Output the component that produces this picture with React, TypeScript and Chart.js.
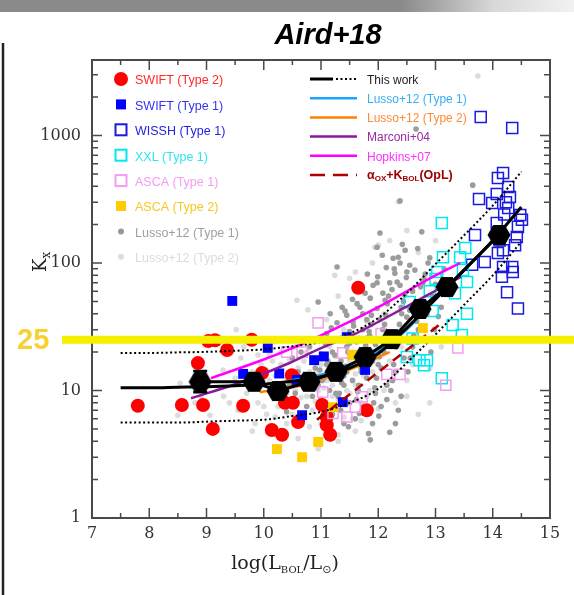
import React, { useEffect, useRef } from 'react';
import { Chart, registerables } from 'chart.js';
Chart.register(...registerables);

const W = 574;
const H = 595;

const xTickValues = [7, 8, 9, 10, 11, 12, 13, 14, 15];
const yTickValues = [1, 10, 100, 1000];
const markLevel = 25;

// This work (binned points)
const thisWorkX = [8.89, 9.83, 10.25, 10.79, 11.26, 11.77, 12.24, 12.73, 13.2, 14.11];
const thisWorkY = [11.7, 11.7, 9.9, 11.7, 14.0, 18.3, 25.3, 43.6, 64.8, 166];
const thisWorkLo = [9.7, 10.8, 9.2, 10.8, 13.0, 17.0, 23.5, 40.5, 60, 150];
const thisWorkHi = [14.2, 12.7, 10.7, 12.7, 15.0, 19.6, 27.2, 47, 70, 183];

// This work model and scatter band
const modelX = [7.5, 8, 8.5, 9, 9.5, 10, 10.5, 11, 11.5, 12, 12.5, 13, 13.5, 14, 14.5];
const modelY = [10.5, 10.5, 10.6, 10.7, 10.9, 11.2, 11.8, 12.8, 15.0, 19.5, 31, 52, 88, 150, 275];
const modelUp = [19.7, 19.7, 19.9, 20.1, 20.5, 21, 22.2, 24, 28, 37, 58, 98, 165, 282, 520];
const modelLo = [5.6, 5.6, 5.6, 5.7, 5.8, 5.9, 6.3, 6.8, 8.0, 10.3, 16.5, 27.5, 47, 80, 147];

// Literature relations
const lussoT1LineX = [10.4, 11.0, 11.5, 12.0, 12.5, 13.1];
const lussoT1LineY = [11.8, 13.3, 16, 20.5, 30, 60];
const lussoT2LineX = [9.93, 10.4, 11.0, 11.5, 12.2];
const lussoT2LineY = [9.7, 10.5, 12.3, 14.6, 20.0];
const marconiX = [8.73, 9.5, 10.46, 11.0, 11.5, 12.55, 13.04, 13.45];
const marconiY = [8.7, 11.2, 16.5, 21.5, 26.5, 47, 62, 78];
const hopkinsX = [9.08, 10.0, 10.5, 11.0, 12.0, 13.0, 13.43];
const hopkinsY = [12.5, 17.5, 21.5, 27, 45, 80, 100];
const aoxX = [10.93, 13.13];
const aoxY = [5.9, 34.5];

// SWIFT (Type 2)
const swift2X = [7.8, 8.57, 8.94, 9.64, 9.11, 8.85, 9.03, 9.15, 9.36, 9.79, 9.97, 10.14, 10.32, 10.37, 10.51, 10.49, 10.6, 11.02, 11.1, 11.16, 11.8, 11.65, 10.58, 11.1];
const swift2Y = [7.6, 7.7, 7.7, 7.6, 5.0, 16.4, 24.4, 24.8, 20.8, 25.0, 13.7, 4.9, 4.5, 8.0, 8.0, 13.2, 5.65, 7.7, 5.35, 4.5, 7.0, 64, 12.0, 6.2];

// SWIFT (Type 1)
const swift1X = [9.45, 9.64, 10.07, 10.27, 10.58, 10.67, 10.88, 11.05, 11.45, 11.77, 11.38];
const swift1Y = [50.4, 13.5, 21.6, 13.6, 12.1, 6.4, 17.3, 18.5, 26.2, 14.5, 8.1];

// WISSH (Type 1)
const wisshX = [13.79, 14.34, 14.18, 14.09, 14.27, 13.76, 14.07, 13.99, 14.23, 14.27, 14.48, 14.51, 14.07, 13.69, 14.44, 14.42, 14.39, 14.18, 14.09, 13.86, 13.64, 14.18, 14.34, 14.35, 14.16, 14.25, 14.44, 14.1, 14.2, 14.3, 14.12];
const wisshY = [1397, 1145, 508, 464, 394, 318, 348, 295, 300, 270, 238, 218, 206, 166, 192, 160, 138, 126, 120, 102, 97, 93, 93, 85, 78, 59, 44, 175, 240, 330, 150];

// XXL (Type 1)
const xxlX = [13.11, 13.52, 13.13, 13.43, 13.48, 13.55, 13.03, 13.55, 13.34, 12.55, 12.9, 13.3, 13.46, 12.5, 12.72, 12.85, 12.8, 13.11, 12.6, 13.0, 12.95];
const xxlY = [206, 131, 111, 111, 88, 71, 85, 40, 58, 49.5, 60, 32.6, 27.2, 18.3, 17.3, 17.3, 15.8, 12.5, 25.6, 75, 42];

// ASCA (Type 1)
const asca1X = [10.4, 10.67, 10.95, 11.38, 11.03, 11.72, 11.6, 11.45, 11.21, 12.05, 12.15, 12.38, 13.39, 13.18];
const asca1Y = [20.0, 20.0, 33.9, 19.7, 9.7, 8.9, 7.4, 6.2, 6.6, 28, 13.4, 13.4, 21.6, 11];

// ASCA (Type 2)
const asca2X = [10.23, 10.67, 10.95, 12.78, 11.21, 11.55];
const asca2Y = [3.47, 3.0, 3.95, 30.9, 7.4, 19];

// Lusso+12 (Type 1) sources
const lusso1X = [10.3, 10.45, 10.55, 10.6, 10.7, 10.75, 10.8, 10.85, 10.9, 10.95, 10.95, 10.5, 10.65, 10.8, 10.4, 10.6,
  11.0, 11.05, 11.1, 11.15, 11.2, 11.25, 11.3, 11.3, 11.35, 11.4, 11.45, 11.45, 11.5, 11.5, 11.16, 11.28, 11.28, 11.37, 11.45, 11.1, 11.2, 11.4, 11.05,
  11.55, 11.56, 11.6, 11.62, 11.65, 11.68, 11.7, 11.73, 11.73, 11.75, 11.77, 11.8, 11.8, 11.85, 11.86, 11.9, 11.91, 11.95, 11.98, 11.98, 11.98, 11.86, 11.6, 11.75, 11.9, 11.95,
  12.03, 12.03, 12.05, 12.07, 12.08, 12.08, 12.1, 12.12, 12.15, 12.2, 12.2, 12.2, 12.24, 12.26, 12.29, 12.3, 12.33, 12.35, 12.38, 12.38, 12.38, 12.4, 12.4, 12.45, 12.47, 12.5, 12.5, 12.35, 12.3, 12.05, 12.15,
  12.55, 12.55, 12.6, 12.64, 12.7, 12.75, 12.76, 12.8, 12.85, 12.9, 12.95, 13.0, 12.66, 13.65, 13.1, 12.6,
  10.92, 10.98, 11.02, 11.08, 11.12, 11.18, 11.22, 11.26, 11.29, 11.24,
  11.32, 11.36, 11.4, 11.43, 11.47, 11.5, 11.53, 11.57, 11.42, 11.55, 11.34, 11.48,
  11.62, 11.64, 11.66, 11.7, 11.72, 11.76, 11.78, 11.82, 11.84, 11.87, 11.88, 11.63, 11.69, 11.81, 11.67, 11.83,
  11.92, 11.94, 11.97, 12.0, 12.02, 12.06, 12.09, 12.11, 12.13, 12.16, 12.18, 11.99, 12.14, 12.01,
  12.22, 12.25, 12.27, 12.31, 12.34, 12.37, 12.41, 12.44, 12.46, 12.49, 12.28, 12.42,
  12.52, 12.56, 12.58, 12.62, 12.67, 12.71, 12.74, 12.78, 12.82, 12.87, 12.69,
  12.92, 12.98, 13.05, 13.15];
const lusso1Y = [8.5, 11, 9.5, 14, 10.5, 7.5, 12, 9, 15, 11, 49.5, 18, 20, 22, 6.8, 6.2,
  8.5, 12.5, 16, 10, 20, 13, 25, 9, 17, 11, 22, 14, 29, 8, 40, 34, 93, 45, 39, 28, 6.5, 5.5, 19,
  12, 34.5, 18, 24, 10, 45, 15, 30, 40, 21, 58, 36, 12.5, 27, 53, 17, 67, 9.5, 44, 70, 133, 4.1, 6, 7.5, 5.5, 23,
  36, 172, 15, 115, 30, 58, 20, 51, 11, 70, 4.7, 26, 62, 109, 83, 14, 71, 111, 100, 67, 307, 9, 45, 18, 126, 85, 37.6, 7, 5.5, 7.5, 8.5,
  96, 42.6, 60, 88, 30, 50, 176, 75, 40, 110, 55, 68, 1124, 408, 45, 22,
  10.5, 14.5, 12, 23, 17, 31, 7.2, 9.5, 13.5, 19,
  9.5, 11.5, 13, 15.5, 20, 23.5, 27, 32, 42, 52, 7, 5.2,
  8.5, 9.8, 11, 14, 16.5, 19.5, 22.5, 26, 29, 33, 39, 48, 62, 82, 6.6, 4.6,
  8, 10.5, 12.5, 16, 18.5, 21.5, 24, 33, 39, 48, 55, 78, 92, 6.3,
  10, 12, 16, 22, 28, 33, 40, 50, 56, 77, 90, 140,
  14, 18, 25, 27, 35, 47, 65, 70, 82, 100, 130,
  20, 30, 38, 90];

// Lusso+12 (Type 2) sources
const lusso2X = [8.5, 8.54, 8.9, 9.06, 9.29, 9.52, 9.6, 9.7, 9.8, 9.9, 9.95, 10.0, 10.05, 10.1, 10.15, 10.2, 10.25, 10.3, 10.35, 10.4, 10.45, 10.5, 10.55, 10.58, 10.6, 10.65, 10.7, 10.75, 10.77, 10.8, 10.85, 10.9, 10.95, 11.0, 11.0, 11.05, 11.1, 11.15, 11.2, 11.24, 11.3, 11.35, 11.4, 11.45, 11.5, 11.5, 11.55, 11.6, 11.65, 11.7, 11.75, 11.8, 11.85, 11.94, 12.0, 12.0, 12.1, 12.2, 12.35, 12.4, 12.5, 12.7, 13.0, 13.74, 9.2, 9.4, 9.5, 9.65, 10.0, 10.2, 10.6, 11.0, 11.3, 10.1, 10.4, 10.2, 9.85, 12.7, 12.9,
  9.55, 9.75, 9.9, 10.0, 10.05, 10.1, 10.15, 10.2, 10.25, 10.3, 10.35, 10.4, 10.45, 10.5, 10.55, 10.6, 10.65, 10.7, 10.75, 10.8, 10.85, 10.9, 10.95, 11.0, 11.05, 11.1, 11.15, 11.2, 11.25, 11.3, 11.35, 11.4, 11.45, 11.5, 11.55, 11.6, 11.7, 11.75, 11.8, 11.9, 12.0, 12.1, 12.2, 12.3, 12.5, 12.6, 11.3, 11.6, 10.95, 12.9, 13.1, 9.3, 9.0, 8.8, 9.8,
  11.3, 11.6, 11.9, 12.2, 11.1, 12.5];
const lusso2Y = [6.4, 11.4, 9, 6.4, 14.5, 30, 18, 9.5, 14, 8, 16, 11, 6.5, 19, 9, 13, 7.5, 16, 10, 5.5, 13.5, 8.5, 22, 51, 11, 6, 17, 9, 43, 14, 7, 25, 10, 5.5, 16, 8, 12, 22, 9, 80, 14, 7, 30, 10, 76, 17, 6, 11, 26, 8, 13, 35, 10, 133, 138, 18, 40, 12, 302, 22, 9, 121, 150, 2930, 10.5, 8, 12.5, 22, 25, 4.5, 4.2, 3.8, 4.5, 12, 9.5, 24, 5.5, 6.5, 15,
  7, 11.5, 19, 7.5, 14.5, 9.8, 17, 6.2, 11, 20, 8, 12.5, 17.5, 6.5, 10, 15, 8.8, 12.5, 20, 5.2, 11, 8.2, 14, 19.5, 10.5, 6.8, 15, 11, 18.5, 8.5, 12, 6.2, 15.5, 9.5, 20, 13.5, 5.8, 17, 9, 14, 7.2, 10, 17, 8, 12, 16, 4.0, 4.8, 3.5, 8, 22, 9, 12, 8, 4.8,
  55, 85, 100, 150, 36, 180];

const leftLegend = [
  { label: 'SWIFT (Type 2)', text: '#ff2a2a', kind: 'circle', color: '#ff0000' },
  { label: 'SWIFT (Type 1)', text: '#3434ee', kind: 'fsq', color: '#0000ff' },
  { label: 'WISSH (Type 1)', text: '#2424e0', kind: 'osq', color: '#1a1ae0' },
  { label: 'XXL (Type 1)', text: '#2ee6f0', kind: 'osq', color: '#00e8f0' },
  { label: 'ASCA (Type 1)', text: '#f59cf0', kind: 'osq', color: '#f59cf0' },
  { label: 'ASCA (Type 2)', text: '#f8c820', kind: 'fsq', color: '#ffcc00' },
  { label: 'Lusso+12 (Type 1)', text: '#a0a0a0', kind: 'dot', color: '#999999' },
  { label: 'Lusso+12 (Type 2)', text: '#dcdcdc', kind: 'dot', color: '#dddddd' },
];
const rightLegend = [
  { label: 'This work', text: '#222222', color: '#000000' },
  { label: 'Lusso+12 (Type 1)', text: '#38aef5', color: '#1aa3ff' },
  { label: 'Lusso+12 (Type 2)', text: '#ff8a33', color: '#ff8000' },
  { label: 'Marconi+04', text: '#9a2aa0', color: '#8b1a9b' },
  { label: 'Hopkins+07', text: '#ff33ff', color: '#ff00ff' },
  { label: 'aox', text: '#a00000', color: '#b00000' },
];

function pts(xs: number[], ys: number[]) {
  return xs.map((x, i) => ({ x, y: ys[i] }));
}

function makeHex(): HTMLCanvasElement {
  const c = document.createElement('canvas');
  c.width = 24;
  c.height = 22;
  const g = c.getContext('2d')!;
  g.beginPath();
  for (let i = 0; i < 6; i++) {
    const a = (Math.PI / 3) * i;
    const px = 12 + 11.5 * Math.cos(a);
    const py = 11 + 11.5 * Math.sin(a);
    if (i === 0) g.moveTo(px, py); else g.lineTo(px, py);
  }
  g.closePath();
  g.fillStyle = '#000';
  g.fill();
  return c;
}

const decor = {
  id: 'decor',
  beforeDraw(chart: any) {
    const ctx = chart.ctx;
    ctx.save();
    ctx.fillStyle = '#ffffff';
    ctx.fillRect(0, 0, W, H);
    const g = ctx.createLinearGradient(0, 0, W, 0);
    g.addColorStop(0, '#8a8a8a');
    g.addColorStop(0.7, '#8a8a8a');
    g.addColorStop(0.86, '#d8d8d8');
    g.addColorStop(1, '#f2f2f2');
    ctx.fillStyle = g;
    ctx.fillRect(0, 0, W, 12);
    ctx.strokeStyle = '#222';
    ctx.lineWidth = 2.5;
    ctx.beginPath();
    ctx.moveTo(3, 43);
    ctx.lineTo(3, H);
    ctx.stroke();
    ctx.restore();
  },
  afterDatasetsDraw(chart: any) {
    const ctx = chart.ctx;
    const xs = chart.scales.x;
    const ys = chart.scales.y;
    const { left, right, top, bottom } = chart.chartArea;
    ctx.save();
    // error bars
    ctx.strokeStyle = '#000';
    ctx.lineWidth = 2.5;
    thisWorkX.forEach((x, i) => {
      const px = xs.getPixelForValue(x);
      const y1 = ys.getPixelForValue(thisWorkLo[i]);
      const y2 = ys.getPixelForValue(thisWorkHi[i]);
      ctx.beginPath();
      ctx.moveTo(px, y1); ctx.lineTo(px, y2);
      ctx.moveTo(px - 7, y1); ctx.lineTo(px + 7, y1);
      ctx.moveTo(px - 7, y2); ctx.lineTo(px + 7, y2);
      ctx.stroke();
    });
    // frame
    ctx.strokeStyle = '#4a4a4a';
    ctx.lineWidth = 2;
    ctx.strokeRect(left, top, right - left, bottom - top);
    ctx.lineWidth = 1.5;
    ctx.beginPath();
    for (let v = xTickValues[0]; v <= xTickValues[xTickValues.length - 1]; v += 0.5) {
      const px = xs.getPixelForValue(v);
      const len = Number.isInteger(v) ? 10 : 5;
      ctx.moveTo(px, bottom); ctx.lineTo(px, bottom - len);
      ctx.moveTo(px, top); ctx.lineTo(px, top + len);
    }
    for (let d = 0; d < 4; d++) {
      for (let k = 1; k <= 9; k++) {
        const v = k * Math.pow(10, d);
        if (v > ys.max) break;
        const py = ys.getPixelForValue(v);
        const len = k === 1 ? 10 : 6;
        ctx.moveTo(left, py); ctx.lineTo(left + len, py);
        ctx.moveTo(right, py); ctx.lineTo(right - len, py);
      }
    }
    ctx.stroke();
    ctx.restore();
  },
  afterDraw(chart: any) {
    const ctx = chart.ctx;
    const ys = chart.scales.y;
    ctx.save();
    // yellow marker line
    const yy = ys.getPixelForValue(markLevel);
    ctx.fillStyle = '#f6f000';
    ctx.fillRect(62, yy - 4, W - 62, 8);
    ctx.fillStyle = '#f7d133';
    ctx.font = 'bold 29px "Liberation Sans", Arial, sans-serif';
    ctx.textAlign = 'left';
    ctx.textBaseline = 'middle';
    ctx.fillText(String(markLevel), 17, yy + 1);

    // title
    ctx.fillStyle = '#000';
    ctx.font = 'bold italic 29px "Liberation Sans", Arial, sans-serif';
    ctx.textAlign = 'center';
    ctx.textBaseline = 'alphabetic';
    ctx.fillText('Aird+18', 328, 44);

    // left legend
    leftLegend.forEach((it, i) => {
      const y = 79 + i * 25.4;
      const x = 121;
      if (it.kind === 'circle') {
        ctx.fillStyle = it.color;
        ctx.beginPath(); ctx.arc(x, y, 7, 0, Math.PI * 2); ctx.fill();
      } else if (it.kind === 'fsq') {
        ctx.fillStyle = it.color;
        ctx.fillRect(x - 5, y - 5, 10, 10);
      } else if (it.kind === 'osq') {
        ctx.strokeStyle = it.color;
        ctx.lineWidth = 2;
        ctx.strokeRect(x - 5.5, y - 5.5, 11, 11);
      } else {
        ctx.fillStyle = it.color;
        ctx.beginPath(); ctx.arc(x, y, 3, 0, Math.PI * 2); ctx.fill();
      }
      ctx.fillStyle = it.text;
      ctx.font = '12.5px "Liberation Sans", Arial, sans-serif';
      ctx.textAlign = 'left';
      ctx.textBaseline = 'middle';
      ctx.fillText(it.label, 135, y + 2);
    });

    // right legend
    rightLegend.forEach((it, i) => {
      const y = 79 + i * 19.2;
      ctx.strokeStyle = it.color;
      if (i === 0) {
        ctx.lineWidth = 3;
        ctx.setLineDash([]);
        ctx.beginPath(); ctx.moveTo(310, y); ctx.lineTo(333, y); ctx.stroke();
        ctx.lineWidth = 2;
        ctx.setLineDash([2, 2.5]);
        ctx.beginPath(); ctx.moveTo(336, y); ctx.lineTo(357, y); ctx.stroke();
      } else if (it.label === 'aox') {
        ctx.lineWidth = 2.5;
        ctx.setLineDash([15, 8]);
        ctx.beginPath(); ctx.moveTo(310, y); ctx.lineTo(357, y); ctx.stroke();
      } else {
        ctx.lineWidth = 2.5;
        ctx.setLineDash([]);
        ctx.beginPath(); ctx.moveTo(310, y); ctx.lineTo(357, y); ctx.stroke();
      }
      ctx.setLineDash([]);
      ctx.fillStyle = it.text;
      ctx.textAlign = 'left';
      ctx.textBaseline = 'middle';
      if (it.label === 'aox') {
        let x = 367;
        const big = 'bold 12.5px "Liberation Sans", Arial, sans-serif';
        const small = 'bold 8px "Liberation Sans", Arial, sans-serif';
        ctx.font = big; ctx.fillText('\u03b1', x, y + 1); x += ctx.measureText('\u03b1').width;
        ctx.font = small; ctx.fillText('OX', x, y + 4); x += ctx.measureText('OX').width;
        ctx.font = big; ctx.fillText('+K', x, y + 1); x += ctx.measureText('+K').width;
        ctx.font = small; ctx.fillText('BOL', x, y + 4); x += ctx.measureText('BOL').width;
        ctx.font = big; ctx.fillText('(OpL)', x, y + 1);
      } else {
        ctx.font = '12px "Liberation Sans", Arial, sans-serif';
        ctx.fillText(it.label, 367, y + 1.5);
      }
    });

    // y axis title (rotated)
    ctx.save();
    ctx.translate(46, 272);
    ctx.rotate(-Math.PI / 2);
    ctx.fillStyle = '#222';
    ctx.textAlign = 'left';
    ctx.textBaseline = 'alphabetic';
    ctx.font = '18px "DejaVu Serif", serif';
    ctx.fillText('K', 0, 0);
    const kw = ctx.measureText('K').width;
    ctx.font = '12px "DejaVu Serif", serif';
    ctx.fillText('x', kw, 4);
    ctx.restore();

    // x axis title
    const parts = [
      { t: 'log(L', f: '19px "DejaVu Serif", serif', dy: 0 },
      { t: 'BOL', f: '10px "DejaVu Serif", serif', dy: 4 },
      { t: '/L', f: '19px "DejaVu Serif", serif', dy: 0 },
      { t: '\u2299', f: '11px "DejaVu Sans", serif', dy: 4 },
      { t: ')', f: '19px "DejaVu Serif", serif', dy: 0 },
    ];
    let total = 0;
    parts.forEach((p) => { ctx.font = p.f; total += ctx.measureText(p.t).width; });
    let x0 = 285 - total / 2;
    ctx.fillStyle = '#222';
    ctx.textAlign = 'left';
    ctx.textBaseline = 'alphabetic';
    parts.forEach((p) => {
      ctx.font = p.f;
      ctx.fillText(p.t, x0, 569 + p.dy);
      x0 += ctx.measureText(p.t).width;
    });
    ctx.restore();
  },
};

export default function App() {
  const ref = useRef<HTMLCanvasElement | null>(null);
  useEffect(() => {
    if (!ref.current) return;
    const hex = makeHex();
    const lineDs = (xs: number[], ys: number[], color: string, width: number, dash: number[], order: number) => ({
      type: 'scatter' as const,
      data: pts(xs, ys),
      showLine: true,
      borderColor: color,
      backgroundColor: color,
      borderWidth: width,
      borderDash: dash,
      pointRadius: 0,
      cubicInterpolationMode: 'monotone' as const,
      fill: false,
      order,
    });
    const chart = new Chart(ref.current, {
      type: 'scatter',
      data: {
        datasets: [
          { data: pts(lusso2X, lusso2Y), pointRadius: 2.8, pointBorderWidth: 0, backgroundColor: '#dcdcdc', borderColor: '#dcdcdc', order: 21 },
          { data: pts(lusso1X, lusso1Y), pointRadius: 2.8, pointBorderWidth: 0, backgroundColor: '#9c9c9c', borderColor: '#9c9c9c', order: 20 },
          { data: pts(swift2X, swift2Y), pointRadius: 7, pointBorderWidth: 0, backgroundColor: '#ff0000', borderColor: '#ff0000', order: 15 },
          { data: pts(swift1X, swift1Y), pointStyle: 'rect', pointRadius: 7, pointBorderWidth: 0, backgroundColor: '#0000ff', borderColor: '#0000ff', order: 14 },
          { data: pts(wisshX, wisshY), pointStyle: 'rect', pointRadius: 7.8, pointBorderWidth: 1.5, backgroundColor: 'rgba(0,0,0,0)', borderColor: '#1a1ae0', order: 13 },
          { data: pts(xxlX, xxlY), pointStyle: 'rect', pointRadius: 7.8, pointBorderWidth: 1.5, backgroundColor: 'rgba(0,0,0,0)', borderColor: '#00e8f0', order: 12 },
          { data: pts(asca1X, asca1Y), pointStyle: 'rect', pointRadius: 7.2, pointBorderWidth: 1.5, backgroundColor: 'rgba(0,0,0,0)', borderColor: '#f59cf0', order: 11 },
          { data: pts(asca2X, asca2Y), pointStyle: 'rect', pointRadius: 7, pointBorderWidth: 0, backgroundColor: '#ffcc00', borderColor: '#ffcc00', order: 10 },
          lineDs(lussoT1LineX, lussoT1LineY, '#1aa3ff', 2.5, [], 8),
          lineDs(lussoT2LineX, lussoT2LineY, '#ff8000', 2.5, [], 8),
          lineDs(marconiX, marconiY, '#8b1a9b', 2.5, [], 8),
          lineDs(hopkinsX, hopkinsY, '#ff00ff', 2.5, [], 8),
          lineDs(aoxX, aoxY, '#b00000', 2.5, [10, 6], 8),
          lineDs(modelX, modelUp, '#000000', 2, [2, 2.5], 5),
          lineDs(modelX, modelLo, '#000000', 2, [2, 2.5], 5),
          lineDs(modelX, modelY, '#000000', 3, [], 4),
          { data: pts(thisWorkX, thisWorkY), showLine: true, borderWidth: 3, tension: 0, pointStyle: hex, pointRadius: 11, backgroundColor: '#000', borderColor: '#000', order: 1 },
        ] as any,
      },
      options: {
        animation: false,
        responsive: false,
        events: [],
        layout: { padding: { top: 60, right: 24, left: 0, bottom: 0 } },
        plugins: {
          legend: { display: false },
          tooltip: { enabled: false },
          title: { display: false },
        },
        scales: {
          x: {
            type: 'linear',
            min: 7,
            max: 15,
            grid: { display: false, drawTicks: false },
            border: { display: false },
            afterBuildTicks: (s: any) => { s.ticks = xTickValues.map((v) => ({ value: v })); },
            afterFit: (s: any) => { s.height = 77; },
            ticks: {
              padding: 6,
              autoSkip: false,
              maxRotation: 0,
              color: '#333',
              font: { family: '"DejaVu Serif", serif', size: 16 },
              callback: (v: any) => String(v),
            },
          },
          y: {
            type: 'logarithmic',
            min: 1,
            max: 3910,
            grid: { display: false, drawTicks: false },
            border: { display: false },
            afterBuildTicks: (s: any) => { s.ticks = yTickValues.map((v) => ({ value: v })); },
            afterFit: (s: any) => { s.width = 92; },
            ticks: {
              padding: 11,
              autoSkip: false,
              color: '#333',
              font: { family: '"DejaVu Serif", serif', size: 16 },
              callback: (v: any) => String(v),
            },
          },
        },
      } as any,
      plugins: [decor],
    });
    return () => chart.destroy();
  }, []);
  return (
    <div style={{ position: 'fixed', left: 0, top: 0, width: W, height: H, background: '#fff' }}>
      <canvas ref={ref} width={W} height={H} style={{ display: 'block', width: W, height: H }} />
    </div>
  );
}
